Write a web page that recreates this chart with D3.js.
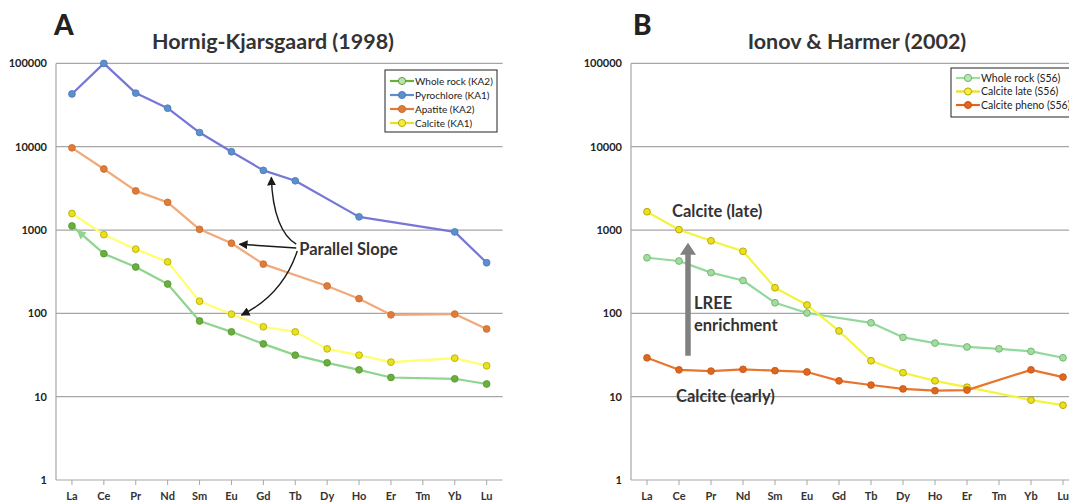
<!DOCTYPE html>
<html><head><meta charset="utf-8">
<script src="https://cdn.jsdelivr.net/npm/d3@7"></script>
<style>
body{margin:0;background:#fff;}
text{font-family:Lato,"Open Sans","Liberation Sans",sans-serif;}
</style>
</head><body>
<svg id="c" width="1069" height="502"></svg>
<script>
// ---------- data ----------
const elements = ["La","Ce","Pr","Nd","Sm","Eu","Gd","Tb","Dy","Ho","Er","Tm","Yb","Lu"];
const yTicks = [1,10,100,1000,10000,100000];

// Panel A  Hornig-Kjarsgaard (1998)
const wholeRockKA2 = [1120,520,360,225,81,60,43,31.5,25.5,21,17,null,16.4,14.2];
const pyrochloreKA1 = [43000,100000,44000,29000,14800,8700,5200,3900,null,1440,null,null,950,405];
const apatiteKA2   = [9700,5400,2950,2150,1020,695,390,null,213,150,96,null,98,65];
const calciteKA1   = [1580,880,590,415,140,98,69,60,37.5,31.5,26,null,29,23.5];

// Panel B  Ionov & Harmer (2002)
const wholeRockS56   = [465,425,308,248,134,101,null,77,51.5,44,39.5,37.5,35,29.3];
const calciteLateS56 = [1660,1010,743,556,203,126,61.5,27,19.4,15.5,13,null,9.1,7.9];
const calcitePhenoS56= [29.3,21,20.3,21.3,20.5,19.8,15.5,13.8,12.4,11.8,12,null,21,17.2];

const seriesA = [
  {name:"Whole rock (KA2)", values:wholeRockKA2, line:"#8fd48f", fill:"#6aaf3c", stroke:"#56952e", lfill:"#b8e4ac"},
  {name:"Pyrochlore (KA1)", values:pyrochloreKA1, line:"#7676d8", fill:"#5b8fcf", stroke:"#4a78b5", lfill:"#5b8fcf"},
  {name:"Apatite (KA2)",    values:apatiteKA2,    line:"#f2a97a", fill:"#e07b39", stroke:"#c96a2c", lfill:"#e07b39"},
  {name:"Calcite (KA1)",    values:calciteKA1,    line:"#ffff70", fill:"#e8e020", stroke:"#b0a800", lfill:"#f2ec40"}
];
const seriesB = [
  {name:"Whole rock (S56)",    values:wholeRockS56,    line:"#93d89c", fill:"#a4dca0", stroke:"#5fae62", lfill:"#b8e8b4"},
  {name:"Calcite late (S56)",  values:calciteLateS56,  line:"#f3f340", fill:"#ece01c", stroke:"#a89c00", lfill:"#f5f040"},
  {name:"Calcite pheno (S56)", values:calcitePhenoS56, line:"#e8752e", fill:"#e0661e", stroke:"#c25514", lfill:"#e0661e"}
];

// ---------- drawing ----------
const svg = d3.select("#c");
svg.append("rect").attr("width",1069).attr("height",502).attr("fill","#fff");
const defs = svg.append("defs");
defs.append("marker").attr("id","ah").attr("viewBox","0 0 10 10").attr("refX",9).attr("refY",5)
  .attr("markerWidth",9).attr("markerHeight",9).attr("markerUnits","userSpaceOnUse").attr("orient","auto")
  .append("path").attr("d","M0,0 L10,5 L0,10 z").attr("fill","#1a1a1a");

const TOP = 63.4, BOTTOM = 480;

function panel(o){
  const g = svg.append("g");
  const x = d3.scaleBand().domain(elements).range([o.left,o.right]).padding(0);
  const cx = d => x(d) + x.bandwidth()/2;
  const y = d3.scaleLog().domain([1,100000]).range([BOTTOM,TOP]);

  g.selectAll("line.grid").data(yTicks.filter(t=>t>1)).join("line")
    .attr("x1",o.left).attr("x2",o.gridRight).attr("y1",d=>y(d)).attr("y2",d=>y(d))
    .attr("stroke","#a6a6a6").attr("stroke-width",1.2);
  g.append("line").attr("x1",o.left).attr("x2",o.left).attr("y1",TOP).attr("y2",BOTTOM)
    .attr("stroke","#a6a6a6").attr("stroke-width",1.2);

  const xa = g.append("g").attr("transform",`translate(0,${BOTTOM})`)
    .call(d3.axisBottom(x).tickSize(5).tickSizeOuter(0).tickPadding(7));
  xa.select(".domain").remove();
  g.append("line").attr("x1",o.left).attr("x2",o.gridRight).attr("y1",BOTTOM).attr("y2",BOTTOM)
    .attr("stroke","#a6a6a6").attr("stroke-width",1.2);
  xa.selectAll(".tick line").attr("stroke","#a6a6a6");
  xa.selectAll("text").attr("font-size",11).attr("font-weight","bold").attr("fill","#333")
    .attr("font-family","Lato,'Open Sans',sans-serif");

  const ya = g.append("g").attr("transform",`translate(${o.left},0)`)
    .call(d3.axisLeft(y).tickValues(yTicks).tickFormat(d3.format("d")).tickSize(0).tickPadding(9));
  ya.select(".domain").remove();
  ya.selectAll("text").attr("font-size",11).attr("font-weight","bold").attr("fill","#222")
    .attr("font-family","Lato,'Open Sans',sans-serif");

  const line = d3.line().x(d=>cx(d.e)).y(d=>y(d.v));
  o.series.forEach(s=>{
    const pts = elements.map((e,i)=>({e, v:s.values[i]})).filter(d=>d.v!=null);
    g.append("path").datum(pts).attr("d",line).attr("fill","none")
      .attr("stroke",s.line).attr("stroke-width",2.2).attr("stroke-linejoin","round");
    s._pts = pts;
  });
  o.series.forEach(s=>{
    g.selectAll(null).data(s._pts).join("circle")
      .attr("cx",d=>cx(d.e)).attr("cy",d=>y(d.v)).attr("r",3.4)
      .attr("fill",s.fill).attr("stroke",s.stroke).attr("stroke-width",0.8);
  });

  svg.append("text").attr("x",o.letterX).attr("y",35).text(o.letter)
    .attr("font-size",28).attr("font-weight","900").attr("fill","#222");
  svg.append("text").attr("x",o.titleX).attr("y",49).attr("text-anchor","middle").text(o.title)
    .attr("font-size",21.5).attr("font-weight","bold").attr("fill","#333");

  const lg = svg.append("g");
  lg.append("rect").attr("x",o.leg.x).attr("y",o.leg.y).attr("width",o.leg.w).attr("height",o.leg.h)
    .attr("fill","#fff").attr("stroke","#222").attr("stroke-width",1);
  o.series.forEach((s,i)=>{
    const yy = o.leg.y + o.leg.first + i*o.leg.step;
    lg.append("line").attr("x1",o.leg.x+5).attr("x2",o.leg.x+29).attr("y1",yy).attr("y2",yy)
      .attr("stroke",s.fill).attr("stroke-width",2.2);
    lg.append("circle").attr("cx",o.leg.x+17).attr("cy",yy).attr("r",3.6)
      .attr("fill",s.lfill).attr("stroke",s.stroke).attr("stroke-width",0.9);
    lg.append("text").attr("x",o.leg.x+30).attr("y",yy).attr("dy","0.35em").text(s.name)
      .attr("font-size",o.leg.fs).attr("fill","#222");
  });
  return {x, cx, y, g};
}

const A = panel({left:56, right:502.6, gridRight:502.6, series:seriesA,
  letter:"A", letterX:54, title:"Hornig-Kjarsgaard (1998)", titleX:273,
  leg:{x:385, y:70, w:112, h:62, first:11, step:14, fs:10}});
const B = panel({left:631, right:1079, gridRight:1079, series:seriesB,
  letter:"B", letterX:633, title:"Ionov & Harmer (2002)", titleX:857,
  leg:{x:951, y:68, w:130, h:49, first:10, step:13.5, fs:10.5}});

// ---------- annotations panel A ----------
const ann = svg.append("g");
const tx = A.cx("Tb")+4, ty = A.y(1000)+19;
ann.append("text").attr("x",tx).attr("y",ty).attr("dy","0.35em").text("Parallel Slope")
  .attr("font-size",16.5).attr("font-weight","bold").attr("fill","#333");
const pG = [A.cx("Gd"), A.y(pyrochloreKA1[6])];
const aE = [A.cx("Eu"), A.y(apatiteKA2[5])];
const cE = [A.cx("Eu"), A.y(calciteKA1[5])];
ann.append("path").attr("d",`M${tx-3},${ty-5} C${tx-17},${ty-13} ${pG[0]+9},${ty-35} ${pG[0]+8},${pG[1]+7}`)
  .attr("fill","none").attr("stroke","#1a1a1a").attr("stroke-width",1.4).attr("marker-end","url(#ah)");
ann.append("path").attr("d",`M${tx-3},${ty-1} L${aE[0]+8},${aE[1]+1}`)
  .attr("fill","none").attr("stroke","#1a1a1a").attr("stroke-width",1.4).attr("marker-end","url(#ah)");
ann.append("path").attr("d",`M${tx-2},${ty+2} C${tx-10},${ty+26} ${tx-25},${ty+50} ${cE[0]+10},${cE[1]+1}`)
  .attr("fill","none").attr("stroke","#1a1a1a").attr("stroke-width",1.4).attr("marker-end","url(#ah)");
{
  const p0=[A.cx("Ce"),A.y(wholeRockKA2[1])], p1=[A.cx("La"),A.y(wholeRockKA2[0])];
  const t=0.15, tip=[p1[0]+(p0[0]-p1[0])*t, p1[1]+(p0[1]-p1[1])*t];
  const ang=Math.atan2(p1[1]-p0[1],p1[0]-p0[0]);
  const L=9,W=4.5;
  const bx=tip[0]-L*Math.cos(ang), by=tip[1]-L*Math.sin(ang);
  ann.append("path").attr("d",`M${tip[0]},${tip[1]} L${bx-W*Math.sin(ang)},${by+W*Math.cos(ang)} L${bx+W*Math.sin(ang)},${by-W*Math.cos(ang)}Z`)
    .attr("fill","#8fd48f");
}

// ---------- annotations panel B ----------
const ax = B.cx("Ce")+9;
const tipY = B.y(calciteLateS56[1])+13, tailY = B.y(31);
ann.append("line").attr("x1",ax).attr("x2",ax).attr("y1",tailY).attr("y2",tipY+10)
  .attr("stroke","#808080").attr("stroke-width",5.5);
ann.append("path").attr("d",`M${ax},${tipY} L${ax+8},${tipY+12} L${ax-8},${tipY+12}Z`).attr("fill","#808080");
ann.append("text").attr("x",B.cx("Ce")-7).attr("y",B.y(calciteLateS56[0])).attr("dy","0.35em")
  .text("Calcite (late)").attr("font-size",16.5).attr("font-weight","bold").attr("fill","#333");
ann.append("text").attr("x",ax+6).attr("y",B.y(100)-10).attr("dy","0.35em")
  .text("LREE").attr("font-size",16.5).attr("font-weight","bold").attr("fill","#333");
ann.append("text").attr("x",ax+6).attr("y",B.y(100)+12).attr("dy","0.35em")
  .text("enrichment").attr("font-size",16.5).attr("font-weight","bold").attr("fill","#333");
ann.append("text").attr("x",B.cx("Ce")-3).attr("y",B.y(10)).attr("dy","0.35em")
  .text("Calcite (early)").attr("font-size",16.5).attr("font-weight","bold").attr("fill","#333");
</script>
</body></html>
